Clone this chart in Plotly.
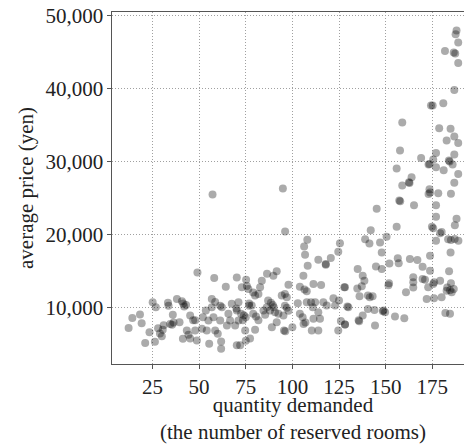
import plotly.graph_objects as go

# quantity demanded (number of reserved rooms)
quantity = [
    12.2, 14.2, 18.3, 19.2, 23.4, 21.1, 26.3, 25.1, 26.8, 28.0,
    29.0, 30.5, 30.0, 31.0, 33.3, 33.6, 38.1, 40.8, 41.5, 43.0, 42.0,
    34.5, 36.3, 35.5, 39.5, 35.9, 45.2, 46.8, 47.9,
    43.4, 44.3, 45.2, 41.3, 48.8, 47.9, 54.1, 55.4,
    52.0, 53.6, 55.0, 56.8, 58.6, 61.3, 62.2, 56.8,
    57.7, 61.3, 58.6, 60.0, 61.8, 61.8,
    65.7, 66.6, 64.9, 67.5, 71.1, 70.2, 71.1, 69.3, 70.2,
    49.1, 58.1, 64.3, 70.2, 57.2, 51.5,
    94.9, 96.1, 108.0, 106.3, 125.5, 106.8, 113.9, 120.6, 117.9, 124.6,
    108.2, 105.9, 117.9, 75.2, 75.6, 76.4, 72.9, 83.6, 82.7, 86.4, 91.6, 89.8,
    79.0, 80.0, 81.8, 76.8, 76.8,
    70.0, 72.5, 74.0, 73.5, 75.0,
    79.0, 80.5, 81.8, 84.5,
    87.0, 88.5, 89.5, 90.0, 86.3, 88.0, 90.7,
    96.0, 97.0, 94.3, 97.9,
    96.0, 97.0, 97.9, 95.2, 92.5,
    104.0, 106.5, 107.7, 111.3, 115.4,
    102.9, 107.7, 110.0, 112.2, 116.6, 118.4, 122.9, 125.0, 122.0,
    104.0, 105.5, 107.0, 106.0, 111.3, 114.8, 113.9,
    110.4, 113.9, 100.0, 95.5, 96.2, 91.6, 89.0,
    74.7, 77.3, 75.0, 72.0, 80.0, 124.6, 126.0,
    78.2, 110.9, 129.5, 128.2, 127.8, 85.4,
    188.0, 187.5, 188.9, 181.8, 187.3, 186.5, 188.9, 186.8, 174.3, 175.2,
    180.9, 158.9, 178.7, 184.8, 182.7, 186.8, 188.9, 157.7, 177.0, 169.0,
    173.0, 173.5, 175.5, 183.9, 184.3, 186.8, 185.9, 181.1, 177.0, 155.9,
    163.9, 162.5, 162.8, 158.9, 188.9, 186.8,
    173.5, 173.8, 173.0, 178.2, 185.0, 157.3, 157.8, 165.2, 177.0, 145.2,
    177.0, 188.0, 187.1, 174.8, 175.5, 179.2, 180.0, 155.9, 142.0, 139.0,
    141.3, 147.0, 150.5, 147.9, 177.0, 183.5, 185.0, 187.0, 189.0, 184.8, 173.8,
    152.0, 156.5, 157.0, 163.0, 167.0, 169.8, 173.8, 135.0, 144.8, 147.9,
    137.7, 138.6, 128.2, 134.8, 137.2, 151.8, 151.5, 164.8, 164.8, 164.8,
    169.8, 171.1, 172.8, 175.5, 179.2, 185.0, 182.7, 185.4, 160.9, 136.0,
    140.5, 141.5, 143.0, 172.0, 175.9, 180.0, 182.0, 184.5, 130.0, 140.5,
    144.0, 148.5, 148.8, 149.7, 137.7, 135.8, 135.5, 128.2, 144.3, 155.0,
    160.0, 184.0, 176.0, 183.0, 184.5, 186.5,
]

# average price (yen)
price = [
    7250, 8600, 9090, 7900, 6670, 5170, 5350, 10760, 10080, 7200,
    6500, 7000, 6100, 7600, 10700, 10300, 11200, 10900, 10600, 10400, 10200,
    7800, 8000, 7700, 8040, 9050, 8950, 8300, 8300,
    6900, 6300, 5800, 5770, 5540, 6900, 6900, 5090,
    8720, 9630, 8270, 11200, 10800, 10300, 10100, 10080,
    8720, 8270, 6900, 6450, 5400, 4410,
    9180, 8270, 7590, 10550, 10760, 9630, 8270, 7590, 4860,
    14860, 14090, 12900, 14170, 25550, 7140,
    26370, 20450, 19320, 18400, 18870, 17270, 16590, 16820, 16000, 17680,
    15770, 14400, 15900, 13860, 13000, 12600, 12810, 13720, 12810, 14680, 15000, 14400,
    12100, 11700, 11900, 10600, 10300,
    9900, 9200, 9000, 8300, 8700,
    9200, 8800, 8300, 9630,
    11000, 10700, 10400, 10100, 10080, 9630, 9400,
    11900, 11450, 11680, 13180,
    10300, 10000, 9600, 8950, 9180,
    12900, 12500, 12270, 13270, 13140,
    10630, 10760, 10760, 10760, 10760, 10310, 10310, 11000, 11300,
    9200, 8700, 8000, 7800, 8500, 8500, 9400,
    6900, 6900, 7350, 6900, 6800, 8040, 7350,
    6900, 5800, 5500, 4860, 7000, 6900, 8200,
    10310, 10080, 10180, 7720, 12810, 9050,
    48000, 47500, 46370, 45190, 44860, 45000, 43560, 39870, 37730, 37730,
    38040, 35410, 34630, 34550, 32920, 33500, 32590, 31550, 31220, 30540,
    29640, 29700, 30320, 30190, 30050, 31010, 29640, 28860, 29270, 29100,
    27910, 27230, 27100, 26780, 28360, 27130,
    26270, 25800, 25600, 25690, 25630, 24730, 24600, 24050, 24050, 23590,
    22490, 22220, 21320, 21130, 20900, 20230, 20400, 21100, 20640, 19410,
    18810, 18950, 19730, 17580, 19180, 19400, 19300, 19450, 19200, 17580, 17130,
    16080, 16800, 16100, 16680, 16550, 15630, 15090, 15320, 15670, 15320,
    14410, 13720, 12810, 12670, 12950, 13360, 13100, 14180, 13500, 12800,
    13960, 13860, 12810, 13270, 13720, 13360, 12360, 12130, 12130, 11600,
    11700, 11450, 11600, 11230, 11300, 11450, 9300, 9200, 10080, 9860,
    9700, 9540, 9630, 9400, 8950, 8170, 8300, 7720, 7590, 8810,
    8580, 15000, 13500, 12800, 12400, 12600,
]

x_ticks = [25, 50, 75, 100, 125, 150, 175]
y_ticks = [10000, 20000, 30000, 40000, 50000]
y_tick_labels = ["10,000", "20,000", "30,000", "40,000", "50,000"]

FONT = "Liberation Serif"

fig = go.Figure()
fig.add_trace(go.Scatter(
    x=quantity, y=price, mode="markers",
    marker=dict(size=8, color="rgba(0,0,0,0.33)", line=dict(width=0)),
    hoverinfo="skip", showlegend=False,
))

axis_common = dict(
    showline=True, linecolor="#555555", linewidth=1.3,
    ticks="outside", ticklen=3.5, tickwidth=1.1, tickcolor="#555555",
    showgrid=True, gridcolor="#a0a0a0", gridwidth=1, griddash="1px,2px",
    zeroline=False, tickfont=dict(family=FONT, size=21, color="#222222"),
)

fig.update_xaxes(range=[3.3, 192.0], tickvals=x_ticks, mirror=True, **axis_common)
fig.update_yaxes(range=[2306, 50546], tickvals=y_ticks, ticktext=y_tick_labels,
                 mirror=False, **axis_common)

fig.add_annotation(
    text="quantity demanded<br>(the number of reserved rooms)",
    xref="paper", yref="paper", x=0.513, y=0, xanchor="center", yanchor="top",
    yshift=-27, showarrow=False,
    font=dict(family=FONT, size=21, color="#222222"),
)
fig.add_annotation(
    text="average price (yen)",
    xref="paper", yref="paper", x=0, y=0.5, xanchor="center", yanchor="middle",
    xshift=-86, textangle=-90, showarrow=False,
    font=dict(family=FONT, size=21, color="#222222"),
)

fig.update_layout(
    width=464, height=448,
    margin=dict(l=112, r=0, t=12, b=84),
    paper_bgcolor="white", plot_bgcolor="white",
)

fig.write_html("out.html")
